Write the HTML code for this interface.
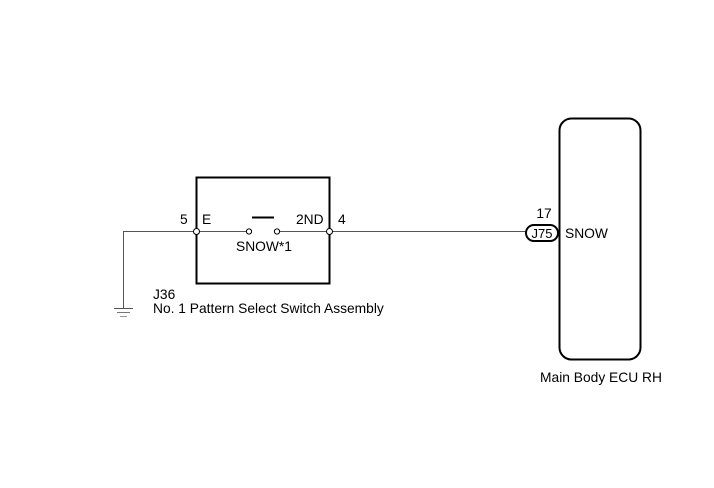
<!DOCTYPE html>
<html><head><style>body{margin:0;background:#fff}</style></head><body>
<svg width="714" height="483" viewBox="0 0 714 483" xmlns="http://www.w3.org/2000/svg" font-family="Liberation Sans, Arial, sans-serif" font-size="13.8" fill="#000">
<rect x="0" y="0" width="714" height="483" fill="#fff"/>
<rect x="196.5" y="177.5" width="133" height="106" fill="none" stroke="#000" stroke-width="2"/>
<line x1="123" y1="231.5" x2="246.5" y2="231.5" stroke="#555" stroke-width="1"/>
<line x1="279.5" y1="231.5" x2="526" y2="231.5" stroke="#555" stroke-width="1"/>
<line x1="123.5" y1="231" x2="123.5" y2="308" stroke="#555" stroke-width="1"/>
<line x1="114" y1="308.5" x2="133" y2="308.5" stroke="#555"/>
<line x1="117" y1="312.5" x2="130" y2="312.5" stroke="#777"/>
<line x1="120" y1="316.5" x2="127" y2="316.5" stroke="#999"/>
<circle cx="196.5" cy="231.5" r="3" fill="#fff" stroke="#000"/>
<circle cx="329.5" cy="231.5" r="3" fill="#fff" stroke="#000"/>
<circle cx="249" cy="231.5" r="2.6" fill="#fff" stroke="#000"/>
<circle cx="277" cy="231.5" r="2.6" fill="#fff" stroke="#000"/>
<line x1="252" y1="217.5" x2="274" y2="217.5" stroke="#000" stroke-width="2"/>
<text x="180" y="224">5</text>
<text x="202" y="224">E</text>
<text x="296" y="224">2ND</text>
<text x="338" y="224">4</text>
<text x="264" y="251" text-anchor="middle">SNOW*1</text>
<text x="153" y="299">J36</text>
<text x="153" y="313">No. 1 Pattern Select Switch Assembly</text>
<rect x="559.5" y="118.5" width="81" height="241" rx="12" fill="none" stroke="#000" stroke-width="2"/>
<rect x="526" y="225" width="32" height="16" rx="8" fill="#fff" stroke="#000" stroke-width="2"/>
<text x="542" y="238" text-anchor="middle" font-size="13">J75</text>
<text x="544" y="218" text-anchor="middle">17</text>
<text x="565" y="238">SNOW</text>
<text x="601" y="382" text-anchor="middle">Main Body ECU RH</text>
</svg>
</body></html>
